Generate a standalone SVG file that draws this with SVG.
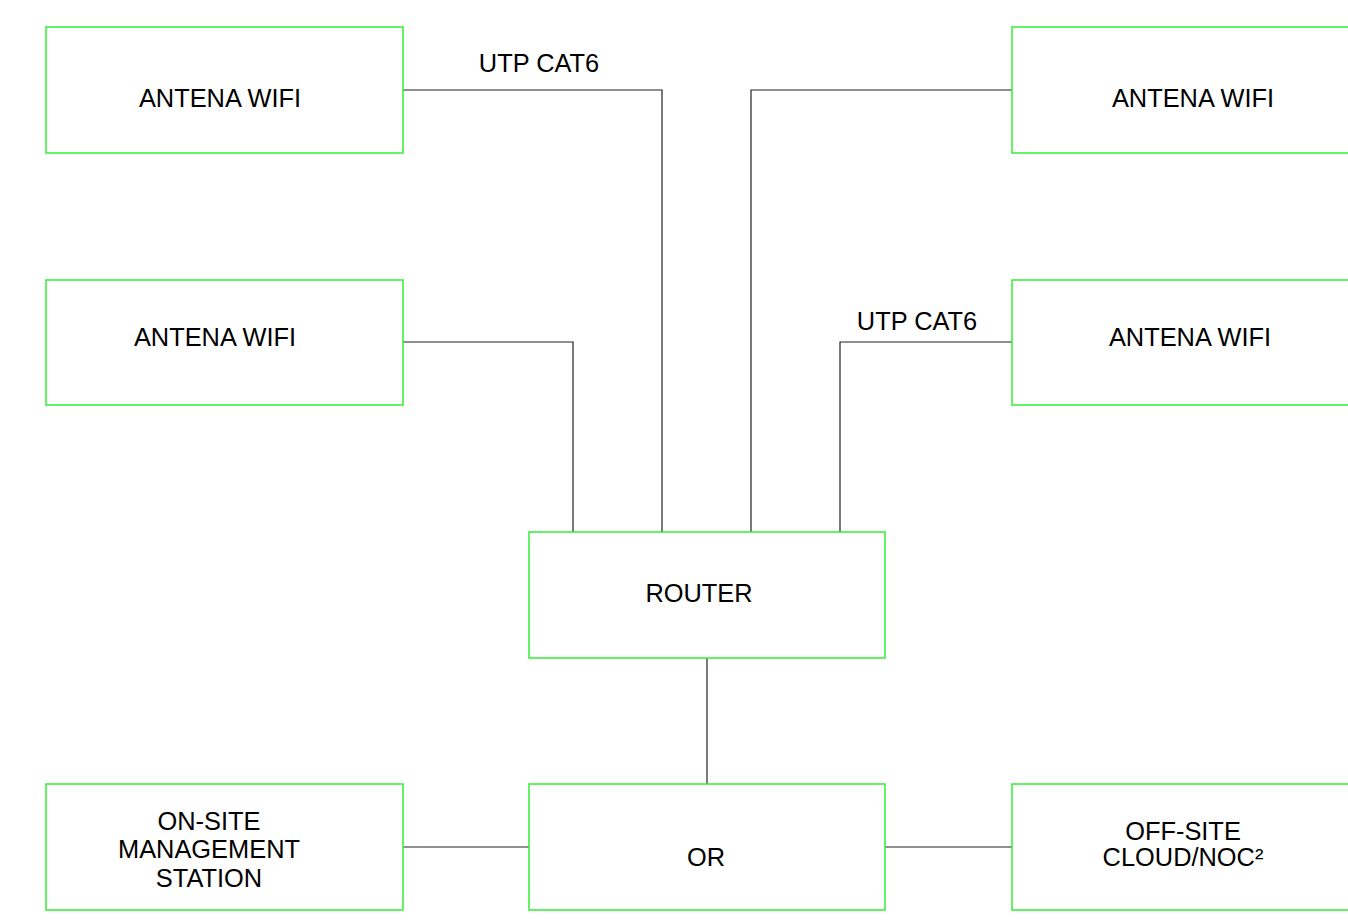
<svg xmlns="http://www.w3.org/2000/svg" width="1348" height="920" viewBox="0 0 1348 920">
<style>
.box{fill:#ffffff;stroke:#33ee33;stroke-width:1.5}
.t{font-family:"Liberation Sans",Arial,sans-serif;font-size:25.4px;fill:#000000;text-anchor:middle}
.c{fill:none;stroke:#222222;stroke-width:1.2}
</style>
<rect width="1348" height="920" fill="#ffffff"/>
<g id="connectors">
<polyline class="c" points="403,90 662,90 662,532"/>
<polyline class="c" points="403,342 573,342 573,532"/>
<polyline class="c" points="1012,90 751,90 751,532"/>
<polyline class="c" points="1012,342 840,342 840,532"/>
<line class="c" x1="707" y1="658" x2="707" y2="784"/>
<line class="c" x1="403" y1="847" x2="529" y2="847"/>
<line class="c" x1="885" y1="847" x2="1012" y2="847"/>
<text class="t" x="539" y="72">UTP CAT6</text>
<text class="t" x="917" y="330">UTP CAT6</text>
</g>
<g id="antena1"><rect class="box" x="46" y="27" width="357" height="126"/><text class="t" x="220" y="107">ANTENA WIFI</text></g>
<g id="antena2"><rect class="box" x="1012" y="27" width="357" height="126"/><text class="t" x="1193" y="107">ANTENA WIFI</text></g>
<g id="antena3"><rect class="box" x="46" y="280" width="357" height="125"/><text class="t" x="215" y="346">ANTENA WIFI</text></g>
<g id="antena4"><rect class="box" x="1012" y="280" width="357" height="125"/><text class="t" x="1190" y="346">ANTENA WIFI</text></g>
<g id="router"><rect class="box" x="529" y="532" width="356" height="126"/><text class="t" x="699" y="602">ROUTER</text></g>
<g id="or"><rect class="box" x="529" y="784" width="356" height="126"/><text class="t" x="706" y="866">OR</text></g>
<g id="onsite"><rect class="box" x="46" y="784" width="357" height="126"/><text class="t" x="209" y="830">ON-SITE</text><text class="t" x="209" y="858">MANAGEMENT</text><text class="t" x="209" y="887">STATION</text></g>
<g id="offsite"><rect class="box" x="1012" y="784" width="357" height="126"/><text class="t" x="1183" y="840">OFF-SITE</text><text class="t" x="1183" y="866">CLOUD/NOC²</text></g>
</svg>
